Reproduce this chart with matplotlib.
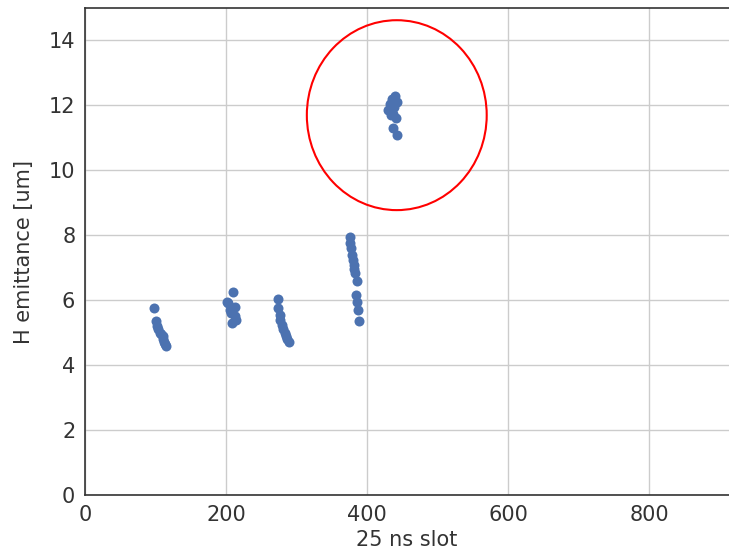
import matplotlib
matplotlib.use("Agg")
import matplotlib.pyplot as plt
from matplotlib.patches import Ellipse
import numpy as np

c1_x = [98, 101, 102, 104, 106, 108, 110, 111, 112, 113, 115]
c1_y = [5.75, 5.35, 5.2, 5.1, 5.0, 4.95, 4.9, 4.8, 4.7, 4.65, 4.6]
c2_x = [210, 202, 203, 212, 205, 207, 213, 214, 209]
c2_y = [6.25, 5.95, 5.9, 5.8, 5.7, 5.6, 5.5, 5.4, 5.3]
c3_x = [273, 274, 276, 277, 279, 281, 283, 285, 287, 289]
c3_y = [6.05, 5.75, 5.55, 5.4, 5.25, 5.1, 5.0, 4.9, 4.8, 4.7]
c4_x = [376, 375, 377, 378, 380, 382, 381, 383, 385, 384, 386, 387, 389]
c4_y = [7.95, 7.75, 7.6, 7.4, 7.25, 7.1, 6.95, 6.85, 6.6, 6.15, 5.95, 5.7, 5.35]
c5_x = [440, 435, 442, 432, 438, 430, 436, 434, 441, 437, 443]
c5_y = [12.3, 12.2, 12.1, 12.05, 11.95, 11.85, 11.75, 11.7, 11.6, 11.3, 11.1]

xs = c1_x + c2_x + c3_x + c4_x + c5_x
ys = c1_y + c2_y + c3_y + c4_y + c5_y

fig = plt.figure(figsize=(7.29, 5.54), dpi=100)
ax = fig.add_axes([0.1166, 0.1065, 0.8834, 0.879])
ax.scatter(xs, ys, s=52, color="#4c72b0", zorder=3, linewidths=0)
ax.add_patch(Ellipse((442, 11.7), 255, 5.85, fill=False, edgecolor="red", lw=1.5, zorder=4))
ax.set_xlim(0, 913)
ax.set_ylim(0, 15)
ax.set_xticks([0, 200, 400, 600, 800])
ax.set_yticks(range(0, 15, 2))
ax.grid(True, color="#cccccc", lw=1)
ax.set_axisbelow(True)
for s in ax.spines.values():
    s.set_color("#333333")
    s.set_linewidth(1.2)
ax.spines["right"].set_visible(False)
ax.tick_params(labelsize=15, colors="#333333", length=0, pad=7)
ax.set_xlabel("25 ns slot", fontsize=15, color="#333333", labelpad=4)
ax.set_ylabel("H emittance [um]", fontsize=15, color="#333333", labelpad=11)
fig.savefig("out.png", dpi=100)
